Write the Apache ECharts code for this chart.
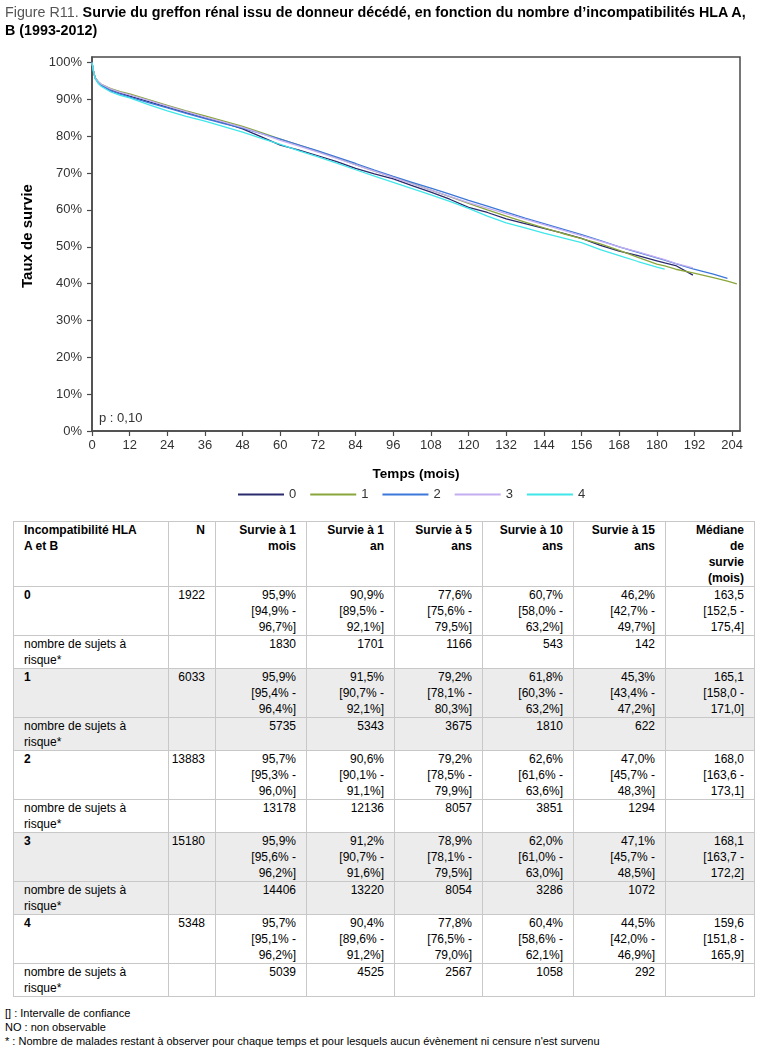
<!DOCTYPE html>
<html><head><meta charset="utf-8">
<script src="https://cdn.jsdelivr.net/npm/echarts@6/dist/echarts.min.js"></script>
<style>
body{margin:0;background:#fff;font-family:"Liberation Sans",Arial,sans-serif;width:768px;height:1055px;overflow:hidden;position:relative;}
#title{position:absolute;left:5px;top:3px;font-size:14.3px;line-height:18px;font-weight:bold;color:#000;z-index:2;white-space:nowrap;}
#title .fig{color:#555;font-weight:normal;}
#chart{position:absolute;left:0;top:0;width:768px;height:510px;}
#tbl{position:absolute;left:13px;top:521px;width:741px;border-collapse:collapse;table-layout:fixed;font-size:12px;line-height:16px;color:#000;}
#tbl td{border:1.5px solid #c8c8c8;padding:0 10px 0 10px;vertical-align:top;text-align:right;overflow:visible;white-space:nowrap;}
#tbl td.first{text-align:left;}
#tbl td.ncol{padding-left:2px;}
#tbl tr.head td{font-weight:bold;height:62px;}
#tbl tr.data td{height:47px;}
#tbl tr.risk td{height:31px;}
#tbl tr.data td.first{font-weight:bold;}
#tbl tr.shade td{background:#ececec;}
#notes{position:absolute;left:5px;top:1006px;font-size:11px;line-height:14px;color:#000;white-space:nowrap;}
</style>
</head><body>
<div id="chart"></div>
<div id="title"><span class="fig">Figure R11.</span> Survie du greffon rénal issu de donneur décédé, en fonction du nombre d’incompatibilités HLA A,<br>B (1993-2012)</div>
<table id="tbl"></table>
<div id="notes">[] : Intervalle de confiance<br>NO : non observable<br>* : Nombre de malades restant à observer pour chaque temps et pour lesquels aucun évènement ni censure n'est survenu</div>
<script>
// ---------- curve data (months, survival %) ----------
const months = [0,0.5,1,2,3,6,9,12,18,24,30,36,42,48,54,60,66,72,78,84,90,96,102,108,114,120,126,132,138,144,150,156,162,168,174,180,182.5,186,191.5,198,202.5,205.5];
const seriesNames = ['0','1','2','3','4'];
const surv0 = [100,97.5,95.9,94.6,93.9,92.6,91.7,90.9, 89.4,87.9,86.4,85.0,83.6,82.0,79.8,77.6, 76.2,74.7,73.1,71.3,69.8,68.4,66.6,64.8, 62.9,60.7,59.3,57.6,56.3,55.0,53.7,52.3, 50.4,48.8,47.6,46.2, 45.6,44.9,42.3,null,null,null];
const surv1 = [100,97.6,95.9,94.8,94.1,92.9,92.1,91.5, 89.9,88.4,86.9,85.5,84.1,82.7,81.0,79.2, 77.6,75.9,74.1,72.3,70.5,68.9,67.2,65.4, 63.6,61.8,60.0,58.3,56.7,55.1,53.6,52.2, 50.8,49.0,47.1,45.3, 44.8,43.9,42.9,41.6,40.7,39.9];
const surv2 = [100,97.5,95.7,94.5,93.8,92.3,91.4,90.6, 89.1,87.7,86.2,84.8,83.4,82.2,80.7,79.2, 77.6,76.0,74.3,72.6,70.8,69.1,67.5,65.9, 64.3,62.6,61.0,59.4,57.8,56.3,54.8,53.3, 51.7,50.0,48.5,47.0, 46.4,45.4,44.0,42.6,41.4,null];
const surv3 = [100,97.6,95.9,94.8,94.1,92.8,91.9,91.2, 89.7,88.2,86.7,85.2,83.8,82.4,80.7,78.9, 77.3,75.7,74.0,72.2,70.5,68.8,67.1,65.4, 63.7,62.0,60.5,59.0,57.5,56.0,54.5,53.0, 51.5,50.0,48.6,47.1, 46.5,45.5,44.3,null,null,null];
const surv4 = [100,97.4,95.7,94.3,93.5,92.0,91.1,90.4, 88.6,86.9,85.4,84.1,82.6,81.1,79.4,77.8, 76.0,74.4,72.7,70.9,69.2,67.5,65.8,64.1, 62.3,60.4,58.3,56.5,55.1,53.7,52.4,51.1, 49.2,47.6,46.0,44.5, 43.9,null,null,null,null,null];
const xTicks = [0,12,24,36,48,60,72,84,96,108,120,132,144,156,168,180,192,204];
const yTicks = [0,10,20,30,40,50,60,70,80,90,100];
const colors = ['#2b2a6e','#8aa63a','#3b78d9','#c4aef2','#3fe6ea'];

// ---------- table data ----------
const tblHeader = ['Incompatibilité HLA<br>A et B','N','Survie à 1<br>mois','Survie à 1<br>an','Survie à 5<br>ans','Survie à 10<br>ans','Survie à 15<br>ans','Médiane<br>de<br>survie<br>(mois)'];
const groups = ['0','1','2','3','4'];
const nPatients = ['1922','6033','13883','15180','5348'];
const surv1m  = [['95,9%','94,9%','96,7%'],['95,9%','95,4%','96,4%'],['95,7%','95,3%','96,0%'],['95,9%','95,6%','96,2%'],['95,7%','95,1%','96,2%']];
const surv1a  = [['90,9%','89,5%','92,1%'],['91,5%','90,7%','92,1%'],['90,6%','90,1%','91,1%'],['91,2%','90,7%','91,6%'],['90,4%','89,6%','91,2%']];
const surv5a  = [['77,6%','75,6%','79,5%'],['79,2%','78,1%','80,3%'],['79,2%','78,5%','79,9%'],['78,9%','78,1%','79,5%'],['77,8%','76,5%','79,0%']];
const surv10a = [['60,7%','58,0%','63,2%'],['61,8%','60,3%','63,2%'],['62,6%','61,6%','63,6%'],['62,0%','61,0%','63,0%'],['60,4%','58,6%','62,1%']];
const surv15a = [['46,2%','42,7%','49,7%'],['45,3%','43,4%','47,2%'],['47,0%','45,7%','48,3%'],['47,1%','45,7%','48,5%'],['44,5%','42,0%','46,9%']];
const median  = [['163,5','152,5','175,4'],['165,1','158,0','171,0'],['168,0','163,6','173,1'],['168,1','163,7','172,2'],['159,6','151,8','165,9']];
const atRisk  = [['1830','1701','1166','543','142'],['5735','5343','3675','1810','622'],['13178','12136','8057','3851','1294'],['14406','13220','8054','3286','1072'],['5039','4525','2567','1058','292']];
const riskLabel = 'nombre de sujets à<br>risque*';

// ---------- build table ----------
(function(){
  const widths=[155,47,91,88,88,91,92,89];
  const t=document.getElementById('tbl');
  let h='<colgroup>'+widths.map(w=>'<col style="width:'+w+'px">').join('')+'</colgroup>';
  h+='<tr class="head">'+tblHeader.map((c,i)=>'<td class="'+(i===0?'first':(i===1?'ncol':''))+'">'+c+'</td>').join('')+'</tr>';
  const ci=a=>a[0]+'<br>['+a[1]+' -<br>'+a[2]+']';
  groups.forEach((g,i)=>{
    const sh=(i%2===1)?' shade':'';
    h+='<tr class="data'+sh+'"><td class="first">'+g+'</td><td class="ncol">'+nPatients[i]+'</td><td>'+ci(surv1m[i])+'</td><td>'+ci(surv1a[i])+'</td><td>'+ci(surv5a[i])+'</td><td>'+ci(surv10a[i])+'</td><td>'+ci(surv15a[i])+'</td><td>'+ci(median[i])+'</td></tr>';
    h+='<tr class="risk'+sh+'"><td class="first">'+riskLabel+'</td><td class="ncol"></td>'+atRisk[i].map(v=>'<td>'+v+'</td>').join('')+'<td></td></tr>';
  });
  t.innerHTML=h;
})();

// ---------- chart ----------
const allSurv=[surv0,surv1,surv2,surv3,surv4];
const chart=echarts.init(document.getElementById('chart'),null,{renderer:'canvas'});
const FONT='"Liberation Sans", Arial, sans-serif';
chart.setOption({
  animation:false,
  textStyle:{fontFamily:FONT},
  color:colors,
  grid:{left:92,top:57,width:648,height:374,show:true,borderColor:'#4a4a4a',borderWidth:1.5,backgroundColor:'#fff'},
  legend:{left:238,top:488,padding:0,itemWidth:46,itemHeight:2,itemGap:14,icon:'rect',
    textStyle:{fontSize:13,color:'#333',fontFamily:FONT},
    data:seriesNames},
  xAxis:{type:'value',min:0,max:206.5,interval:12,
    name:'Temps (mois)',nameLocation:'middle',nameGap:36,
    nameTextStyle:{fontSize:13.5,fontWeight:'bold',color:'#000',fontFamily:FONT},
    axisLine:{show:true,lineStyle:{color:'#4a4a4a',width:1.5}},
    axisTick:{show:true,length:5,lineStyle:{color:'#4a4a4a',width:1.2},customValues:xTicks},
    axisLabel:{fontSize:13,color:'#333',margin:8,customValues:xTicks,
      formatter:v=>(xTicks.indexOf(v)>=0?String(v):'')},
    splitLine:{show:false}},
  yAxis:{type:'value',min:0,max:101.5,interval:10,
    axisLine:{show:true,lineStyle:{color:'#4a4a4a',width:1.5}},
    axisTick:{show:true,length:5,lineStyle:{color:'#4a4a4a',width:1.2},customValues:yTicks},
    axisLabel:{fontSize:13,color:'#333',margin:10,customValues:yTicks,
      formatter:v=>(yTicks.indexOf(v)>=0?v+'%':'')},
    splitLine:{show:false}},
  graphic:[
    {type:'text',left:99,top:412,style:{text:'p : 0,10',fontSize:13,fill:'#333',fontFamily:FONT}},
    {type:'text',x:28,y:236,rotation:Math.PI/2,style:{text:'Taux de survie',fontSize:15,fontWeight:'bold',fill:'#000',fontFamily:FONT,align:'center',verticalAlign:'middle'}}
  ],
  series:allSurv.map((s,k)=>({
    name:seriesNames[k],type:'line',showSymbol:false,symbol:'none',
    lineStyle:{width:1.3,color:colors[k]},itemStyle:{color:colors[k]},
    data:months.map((m,i)=>[m,s[i]]).filter(p=>p[1]!==null)
  }))
});
</script>
</body></html>
